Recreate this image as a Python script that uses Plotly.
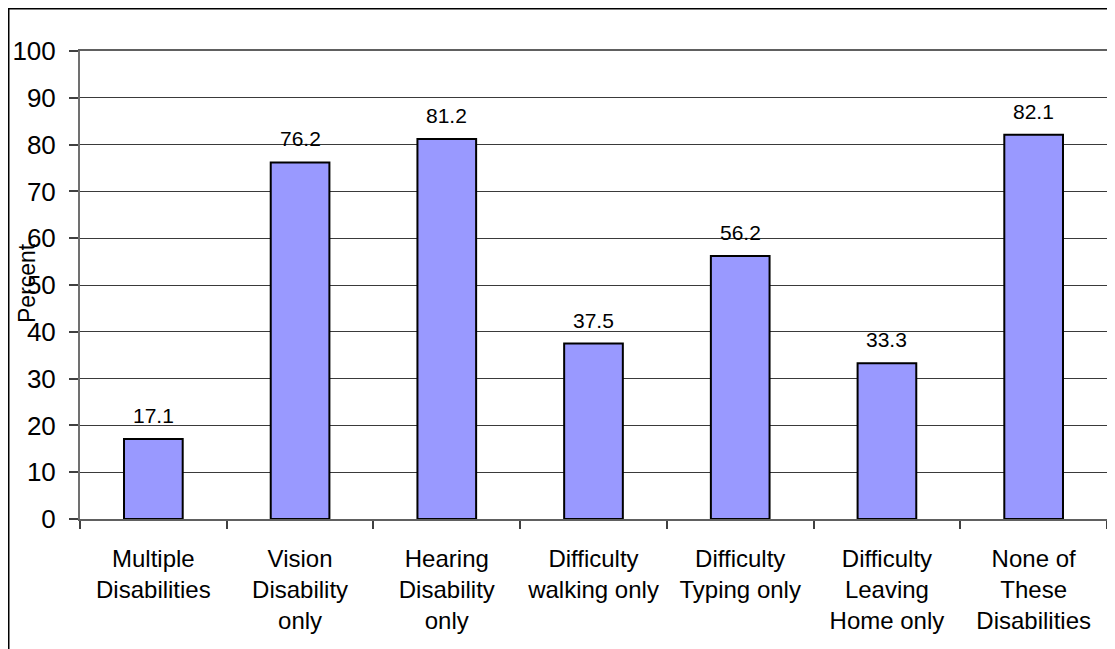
import plotly.graph_objects as go

categories = ["Multiple<br>Disabilities", "Vision<br>Disability<br>only", "Hearing<br>Disability<br>only",
              "Difficulty<br>walking only", "Difficulty<br>Typing only", "Difficulty<br>Leaving<br>Home only",
              "None of<br>These<br>Disabilities"]
values = [17.1, 76.2, 81.2, 37.5, 56.2, 33.3, 82.1]
y_ticks = [0, 10, 20, 30, 40, 50, 60, 70, 80, 90, 100]

FONT = "Liberation Sans, Arial, sans-serif"
# page has an 8px body margin; figure is sized to fit inside the window
W, H = 1107, 641
L, R, T, B = 72, 8, 43, 130
pw, ph = W - L - R, H - T - B

fig = go.Figure()
fig.add_trace(go.Bar(
    x=categories, y=values,
    marker=dict(color="#9999FF", line=dict(color="black", width=2)),
    width=0.4,
    hoverinfo="x+y",
))

for c, v in zip(categories, values):
    fig.add_annotation(x=c, y=v, text=f"{v:.1f}", showarrow=False,
                       yanchor="bottom", yshift=10,
                       font=dict(family=FONT, size=21, color="black"))

fig.add_annotation(xref="paper", yref="paper", x=0, y=0.5, text="Percent",
                   textangle=-90, showarrow=False, xanchor="center", yanchor="middle",
                   xshift=-53, yshift=2, font=dict(family=FONT, size=23, color="black"))

# outer chart border (left and top edges visible; right/bottom outside the view)
fig.add_shape(type="rect", xref="paper", yref="paper",
              x0=(0.75 - L) / pw, x1=(W + 20 - L) / pw,
              y0=(T + ph - (H + 20)) / ph, y1=(T + ph - 0.75) / ph,
              line=dict(color="black", width=1.5), fillcolor="rgba(0,0,0,0)", layer="below")

fig.update_layout(
    width=W, height=H,
    margin=dict(l=L, r=R, t=T, b=B, autoexpand=False),
    paper_bgcolor="white", plot_bgcolor="white",
    showlegend=False,
    font=dict(family=FONT, color="black"),
    bargap=0.6,
)
fig.update_xaxes(
    tickson="boundaries", ticks="outside", ticklen=8, tickcolor="#404040", tickwidth=1.5,
    showline=True, linecolor="#606060", linewidth=2, mirror=True,
    tickfont=dict(family=FONT, size=24, color="black"),
    ticklabelstandoff=17, automargin=False,
    showgrid=False, tickangle=0,
)
fig.update_yaxes(
    range=[0, 100], tickvals=y_ticks, ticks="outside", ticklen=9, tickcolor="#404040", tickwidth=1.5,
    showline=True, linecolor="#707070", linewidth=2, mirror=True,
    showgrid=True, gridcolor="#3a3a3a", gridwidth=1,
    tickfont=dict(family=FONT, size=26, color="black"),
    ticklabelstandoff=8, automargin=False,
    zeroline=False,
)

fig.write_html("out.html")
